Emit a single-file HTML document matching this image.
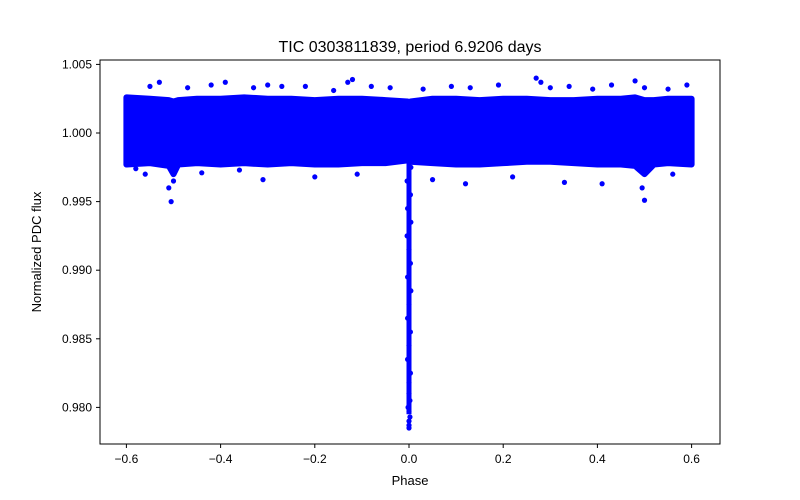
<!DOCTYPE html>
<html><head><meta charset="utf-8"><style>
body{margin:0;background:#fff;}
svg{display:block;font-family:"Liberation Sans","DejaVu Sans",sans-serif;}
</style></head><body>
<svg id="chart" width="800" height="500">
<rect width="800" height="500" fill="#fff"/>
<text x="410" y="52" text-anchor="middle" font-size="16">TIC 0303811839, period 6.9206 days</text>
<g id="marks"></g>
<rect x="100" y="60" width="620" height="384" fill="none" stroke="#000" stroke-width="1"/>
<g id="axes"></g>
<text x="410" y="485" text-anchor="middle" font-size="13">Phase</text>
<text transform="translate(41,252) rotate(-90)" text-anchor="middle" font-size="13">Normalized PDC flux</text>
</svg>
<script>
const xTicks=[-0.6,-0.4,-0.2,0.0,0.2,0.4,0.6];
const xTickLabels=["−0.6","−0.4","−0.2","0.0","0.2","0.4","0.6"];
const yTicks=[0.980,0.985,0.990,0.995,1.000,1.005];
const yTickLabels=["0.980","0.985","0.990","0.995","1.000","1.005"];
// band envelope (phase, upper flux, lower flux)
const bandPhase=[-0.6,-0.55,-0.51,-0.5,-0.49,-0.45,-0.4,-0.35,-0.3,-0.25,-0.2,-0.15,-0.1,-0.05,-0.003];
const bandUpper=[1.0026,1.0025,1.0024,1.0023,1.0024,1.0025,1.0025,1.0026,1.0025,1.0025,1.0024,1.0025,1.0025,1.0024,1.0023];
const bandLower=[0.9977,0.9978,0.9976,0.9970,0.9977,0.9978,0.9977,0.9978,0.9977,0.9978,0.9977,0.9977,0.9978,0.9978,0.9980];
const band2Phase=[0.003,0.05,0.1,0.15,0.2,0.25,0.3,0.35,0.4,0.45,0.48,0.5,0.52,0.55,0.6];
const band2Upper=[1.0023,1.0025,1.0025,1.0024,1.0025,1.0025,1.0024,1.0024,1.0025,1.0025,1.0026,1.0024,1.0024,1.0025,1.0025];
const band2Lower=[0.9979,0.9978,0.9977,0.9977,0.9978,0.9979,0.9979,0.9978,0.9977,0.9977,0.9976,0.9970,0.9977,0.9978,0.9977];
// scattered outlier points
const outPhase=[-0.58,-0.55,-0.53,-0.47,-0.42,-0.39,-0.33,-0.3,-0.27,-0.22,-0.16,-0.13,-0.12,-0.08,-0.04,0.03,0.09,0.13,0.19,0.27,0.28,0.3,0.34,0.39,0.43,0.48,0.5,0.55,0.59,-0.56,-0.51,-0.505,-0.5,-0.44,-0.36,-0.31,-0.2,-0.11,0.05,0.12,0.22,0.33,0.41,0.495,0.5,0.56];
const outFlux=[0.9974,1.0034,1.0037,1.0033,1.0035,1.0037,1.0033,1.0035,1.0034,1.0034,1.0031,1.0037,1.0039,1.0034,1.0033,1.0032,1.0034,1.0033,1.0035,1.0040,1.0037,1.0033,1.0034,1.0032,1.0035,1.0038,1.0033,1.0032,1.0035,0.9970,0.9960,0.9950,0.9965,0.9971,0.9973,0.9966,0.9968,0.9970,0.9966,0.9963,0.9968,0.9964,0.9963,0.9960,0.9951,0.9970];
// transit dip points near phase 0
const dipPhase=[-0.005,0.004,-0.004,0.003,-0.003,0.004,-0.004,0.0,0.003,-0.003,0.004,0.0,-0.003,0.003,0.0,-0.003,0.003,0.0,0.0,0.002,-0.002,0.0,0.002,0.0,0.0,0.0];
const dipFlux=[0.9985,0.9975,0.9965,0.9955,0.9945,0.9935,0.9925,0.9915,0.9905,0.9895,0.9885,0.9875,0.9865,0.9855,0.9845,0.9835,0.9825,0.9818,0.9810,0.9805,0.9800,0.9797,0.9793,0.9790,0.9787,0.9785];
const NS="http://www.w3.org/2000/svg";
const X=v=>409+(v)*471;
const Y=v=>133+(1.0-v)*13720;
const marks=document.getElementById('marks');
const axes=document.getElementById('axes');
function bandPath(ph,up,lo){
 let d="M"+X(ph[0])+","+Y(up[0]);
 for(let i=1;i<ph.length;i++) d+=" L"+X(ph[i])+","+Y(up[i]);
 for(let i=ph.length-1;i>=0;i--) d+=" L"+X(ph[i])+","+Y(lo[i]);
 return d+" Z";
}
[[bandPhase,bandUpper,bandLower,'band-left'],[band2Phase,band2Upper,band2Lower,'band-right']].forEach(b=>{
 const p=document.createElementNS(NS,'path');
 p.setAttribute('d',bandPath(b[0],b[1],b[2]));
 p.setAttribute('fill','#0000ff');p.setAttribute('stroke','#0000ff');p.setAttribute('stroke-width','6');p.setAttribute('stroke-linejoin','round');
 
 
 marks.appendChild(p);
});
function dot(px,fx,name){
 const c=document.createElementNS(NS,'circle');
 c.setAttribute('cx',X(px));c.setAttribute('cy',Y(fx));c.setAttribute('r',2.6);c.setAttribute('fill','#0000ff');
 
 
 marks.appendChild(c);
}
outPhase.forEach((p,i)=>dot(p,outFlux[i],'outlier-point'));
dipPhase.forEach((p,i)=>dot(p,dipFlux[i],'transit-point'));
const dl=document.createElementNS(NS,'line');
dl.setAttribute('x1',X(0));dl.setAttribute('x2',X(0));dl.setAttribute('y1',Y(0.9995));dl.setAttribute('y2',Y(0.9795));
dl.setAttribute('stroke','#0000ff');dl.setAttribute('stroke-width','5');


marks.appendChild(dl);
xTicks.forEach((t,i)=>{
 const l=document.createElementNS(NS,'line');
 l.setAttribute('x1',X(t));l.setAttribute('x2',X(t));l.setAttribute('y1',444);l.setAttribute('y2',448);l.setAttribute('stroke','#000');
 
 
 axes.appendChild(l);
 const tx=document.createElementNS(NS,'text');
 tx.setAttribute('x',X(t));tx.setAttribute('y',463);tx.setAttribute('text-anchor','middle');tx.setAttribute('font-size','12');
 tx.textContent=xTickLabels[i];
 
 
 axes.appendChild(tx);
});
yTicks.forEach((t,i)=>{
 const l=document.createElementNS(NS,'line');
 l.setAttribute('x1',96);l.setAttribute('x2',100);l.setAttribute('y1',Y(t));l.setAttribute('y2',Y(t));l.setAttribute('stroke','#000');
 
 
 axes.appendChild(l);
 const tx=document.createElementNS(NS,'text');
 tx.setAttribute('x',92);tx.setAttribute('y',Y(t)+4);tx.setAttribute('text-anchor','end');tx.setAttribute('font-size','12');
 tx.textContent=yTickLabels[i];
 
 
 axes.appendChild(tx);
});
</script>
</body></html>
